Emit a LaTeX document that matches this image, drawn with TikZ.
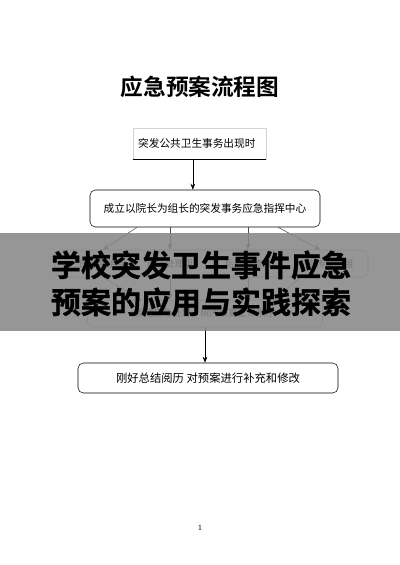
\documentclass[tikz,border=0pt]{standalone}
\usepackage{fontspec}
\newfontfamily\cjk{Noto Sans CJK SC}
\newfontfamily\cjkbold{Noto Sans CJK SC Bold}
\newfontfamily\cjkheavy{Noto Sans CJK SC Bold}[FakeBold=1.2]
\usetikzlibrary{arrows.meta}

\begin{document}
\begin{tikzpicture}[x=0.75pt, y=-0.75pt, thin, >={Stealth[length=4.5pt,width=3.5pt]},
                    flow box/.style={draw, rounded corners=4pt, font=\cjk\fontsize{8}{9}\selectfont},
                    group label/.style={minimum height=20.25pt, inner sep=0pt, font=\cjk\fontsize{7}{8}\selectfont},
                    branch/.style={draw=black!70, ->}]

  \useasboundingbox (0,0) rectangle (400,565);

  \node[font=\cjkbold\fontsize{17}{19}\selectfont] (title) at (200,87) {应急预案流程图};

  \node[draw=gray!35, text width=92pt, align=left, inner xsep=4pt, minimum height=23.25pt,
        font=\cjk\fontsize{8}{9}\selectfont] (event) at (199.5,143.5) {突发公共卫生事务出现时};
  \draw (event.south west) -- (event.south east);

  \node[flow box, minimum width=172.5pt, minimum height=27.75pt] (hub) at (205,208.5)
    {成立以院长为组长的突发事务应急指挥中心};

  % groups under the hub
  \node[flow box, draw=gray!70, minimum width=234.75pt, minimum height=20.25pt] (row) at (211.5,263.5) {};
  \node[group label] (g1) at (103,263.5) {医疗救治组};
  \node[group label] (g2) at (170,263.5) {现场处理组};
  \node[group label] (g3) at (248,263.5) {后勤保障组};
  \node[group label] (g4) at (330,263.5) {宣传联络组};

  \node[flow box, draw=gray!70, minimum width=176.25pt, minimum height=20.25pt,
        font=\cjk\fontsize{7}{8}\selectfont] (act) at (205,313.5) {启动应急处理，院内恢复正常秩序};

  \node[flow box, minimum width=195pt, minimum height=22.5pt,
        font=\cjk\fontsize{8.5}{10}\selectfont] (review) at (208,378) {刚好总结阅历\ 对预案进行补充和修改};

  \draw[->] ([xshift=-5pt]event.south) -- ([xshift=-5pt]event.south |- hub.north);

  \path[every edge/.style=branch]
    ([xshift=-51pt]hub.south) edge (g1.north)
    (hub.south -| g2) edge (g2.north)
    (hub.south -| g3) edge (g3.north)
    ([xshift=54.75pt]hub.south) edge ([xshift=-7.5pt]g4.north);

  \path[every edge/.style=branch]
    (g1.south) edge ([xshift=-48pt]act.north)
    (g2.south) edge (act.north -| g2)
    (g3.south) edge (act.north -| g3)
    ([xshift=-22pt]g4.south) edge ([xshift=52pt]act.north);

  \draw[->] (act.south) -- (act.south |- review.north);

  % banner over the middle
  \fill[black!47, opacity=0.88] (0,233) rectangle (400,331);
  \node[font=\cjkheavy\fontsize{22.5}{24}\selectfont, inner sep=0pt] (line1) at (201,265) {学校突发卫生事件应急};
  \node[font=\cjkheavy\fontsize{22.5}{24}\selectfont, inner sep=0pt] (line2) at (201,302) {预案的应用与实践探索};

  \node[font=\fontsize{6}{7}\selectfont] (page) at (200,528) {1};
\end{tikzpicture}
\end{document}
